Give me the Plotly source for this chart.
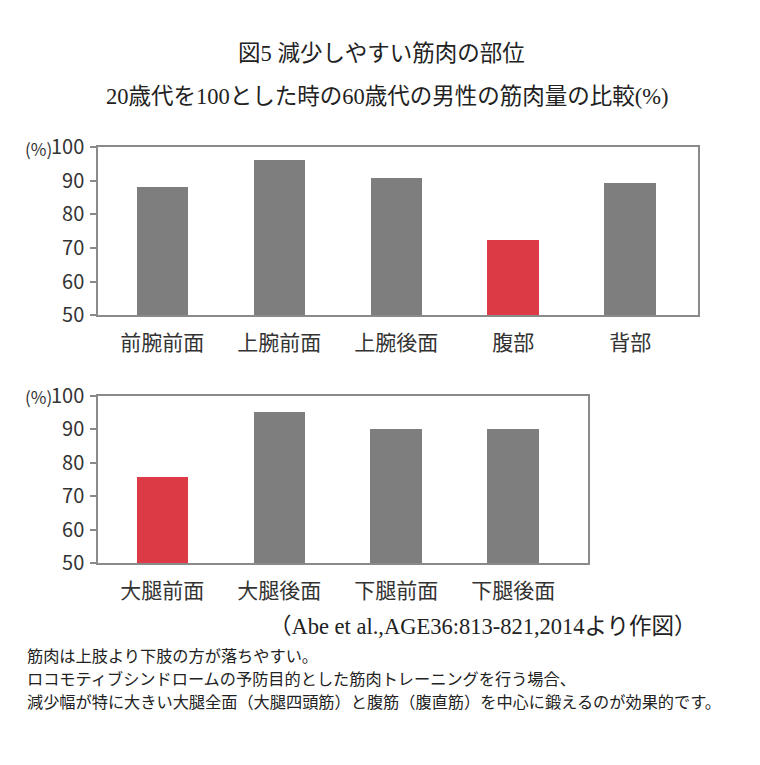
import plotly.graph_objects as go

# ---- data ----
top_categories = ["前腕前面", "上腕前面", "上腕後面", "腹部", "背部"]
top_values = [88.2, 96.0, 90.8, 72.5, 89.3]
top_highlight = [False, False, False, True, False]

bottom_categories = ["大腿前面", "大腿後面", "下腿前面", "下腿後面"]
bottom_values = [75.8, 95.3, 90.1, 90.1]
bottom_highlight = [True, False, False, False]

y_ticks = [50, 60, 70, 80, 90, 100]
y_tick_labels = ["50", "60", "70", "80", "90", "100"]

title_text = "図5 減少しやすい筋肉の部位"
subtitle_text = "20歳代を100とした時の60歳代の男性の筋肉量の比較(%)"
source_text = "（Abe et al.,AGE36:813-821,2014より作図）"
body_lines = [
    "筋肉は上肢より下肢の方が落ちやすい。",
    "ロコモティブシンドロームの予防目的とした筋肉トレーニングを行う場合、",
    "減少幅が特に大きい大腿全面（大腿四頭筋）と腹筋（腹直筋）を中心に鍛えるのが効果的です。",
]

GRAY = "#7e7e7e"
RED = "#dc3b45"
OFF = 8                 # default body margin of the page
FW, FH = 760 - 2 * OFF, 765 - 2 * OFF
SANS = "Noto Sans CJK JP, Noto Sans, sans-serif"
SERIF = "Liberation Serif, Noto Sans CJK JP, serif"


def colors(flags):
    return [RED if f else GRAY for f in flags]


def px(v):
    return (v - OFF) / FW


def py(v):
    return 1 - (v - OFF) / FH


fig = go.Figure()
fig.add_trace(go.Bar(x=top_categories, y=top_values, width=0.44,
                     marker=dict(color=colors(top_highlight), line=dict(width=0)),
                     xaxis="x", yaxis="y", showlegend=False, hoverinfo="x+y"))
fig.add_trace(go.Bar(x=bottom_categories, y=bottom_values, width=0.44,
                     marker=dict(color=colors(bottom_highlight), line=dict(width=0)),
                     xaxis="x2", yaxis="y2", showlegend=False, hoverinfo="x+y"))

axis_line = dict(showline=True, linecolor="#8a8a8a", linewidth=1.5, mirror=True,
                 showgrid=False, zeroline=False)
xfont = dict(family=SANS, size=21, color="#333333")
yaxis_common = dict(range=[50, 100], tickvals=y_ticks, ticktext=y_tick_labels,
                    ticks="outside", ticklen=6, tickwidth=1.5, tickcolor="#8a8a8a",
                    tickfont=dict(family=SANS, size=20, color="#333333"),
                    ticklabelstandoff=2, **axis_line)

fig.update_layout(
    width=FW, height=FH,
    margin=dict(l=0, r=0, t=0, b=0),
    paper_bgcolor="white", plot_bgcolor="white",
    bargap=0,
    xaxis=dict(domain=[px(98), px(698)], anchor="y", type="category",
               range=[-0.55, 4.58], ticks="", tickfont=xfont,
               ticklabelstandoff=8, **axis_line),
    yaxis=dict(domain=[py(311), py(136)], anchor="x", **yaxis_common),
    xaxis2=dict(domain=[px(98), px(588)], anchor="y2", type="category",
                range=[-0.55, 3.64], ticks="", tickfont=xfont,
                ticklabelstandoff=8, **axis_line),
    yaxis2=dict(domain=[py(569), py(395)], anchor="x2", **yaxis_common),
)

ann = []
ann.append(dict(text=title_text, x=px(381), y=py(39), xref="paper", yref="paper",
                xanchor="center", yanchor="middle", showarrow=False,
                font=dict(family=SERIF, size=22.5, color="#222222")))
ann.append(dict(text=subtitle_text, x=px(387), y=py(83), xref="paper", yref="paper",
                xanchor="center", yanchor="middle", showarrow=False,
                font=dict(family=SERIF, size=22.5, color="#222222")))
for ytop in (136, 395):
    ann.append(dict(text="(%)", x=px(54), y=py(ytop + 1), xref="paper", yref="paper",
                    xanchor="right", yanchor="middle", showarrow=False,
                    font=dict(family=SANS, size=17, color="#333333")))
ann.append(dict(text=source_text, x=px(699), y=py(635), xref="paper", yref="paper",
                xanchor="right", yanchor="middle", showarrow=False,
                font=dict(family=SERIF, size=22.5, color="#222222")))
for i, line in enumerate(body_lines):
    ann.append(dict(text=line, x=px(26), y=py(664 + 24 * i), xref="paper", yref="paper",
                    xanchor="left", yanchor="middle", align="left", showarrow=False,
                    borderpad=0,
                    font=dict(family=SANS, size=16.2, color="#222222")))
fig.update_layout(annotations=ann)

fig.write_html("out.html")
